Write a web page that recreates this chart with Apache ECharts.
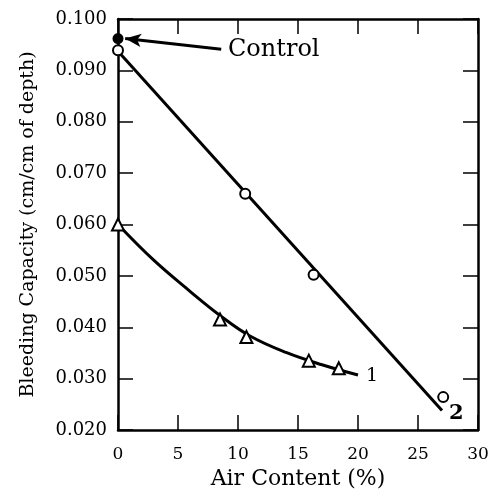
<!DOCTYPE html>
<html><head><meta charset="utf-8">
<script src="https://cdn.jsdelivr.net/npm/echarts@6/dist/echarts.min.js"></script>
<style>html,body{margin:0;padding:0;background:#fff}#c{width:501px;height:495px}</style>
</head><body><div id="c"></div>
<script>
const xTicks = [0, 5, 10, 15, 20, 25, 30];
const yTicks = [0.020, 0.030, 0.040, 0.050, 0.060, 0.070, 0.080, 0.090, 0.100];
// Line 2: straight fit and open-circle data
const fit2 = [[0, 0.0937], [27.0, 0.0238]];
const circles2 = [[0, 0.0939], [10.6, 0.0660], [16.3, 0.0502], [27.1, 0.0264]];
const control = [[0, 0.0962]];
// Line 1: smooth curve and triangle data
const curve1 = [[0, 0.0600], [3, 0.0530], [6, 0.0470], [8.5, 0.0423], [11, 0.0383], [14, 0.0351], [17, 0.0327], [20, 0.0307]];
const triangles1 = [[0, 0.0600], [8.5, 0.0415], [10.7, 0.0381], [15.9, 0.0335], [18.4, 0.0320]];
const arrow = [[8.6, 0.0941], [0.6, 0.0962]];

const FONT = 'DejaVu Serif';
const chart = echarts.init(document.getElementById('c'), null, {renderer: 'canvas'});
const axisLine = {show: true, onZero: false, lineStyle: {color: '#000', width: 2.5}};
const axisTick = {show: true, inside: true, length: 15, lineStyle: {color: '#000', width: 1.5}};
const xBase = {type: 'value', min: xTicks[0], max: xTicks[xTicks.length - 1], interval: 5, splitLine: {show: false}, axisLine, axisTick};
const yBase = {type: 'value', min: yTicks[0], max: yTicks[yTicks.length - 1], interval: 0.01, splitLine: {show: false}, axisLine, axisTick};
const openStyle = {color: '#fff', borderColor: '#000', borderWidth: 2, opacity: 1};

chart.setOption({
  backgroundColor: '#fff',
  animation: false,
  grid: {left: 118, right: 23, top: 19, bottom: 62},
  xAxis: [
    Object.assign({}, xBase, {position: 'bottom', name: 'Air Content (%)', nameLocation: 'middle', nameGap: 38,
      nameTextStyle: {fontFamily: FONT, fontSize: 22, color: '#000'},
      axisLabel: {fontFamily: FONT, fontSize: 17, color: '#000', margin: 16}}),
    Object.assign({}, xBase, {position: 'top', axisLabel: {show: false}})
  ],
  yAxis: [
    Object.assign({}, yBase, {position: 'left', name: 'Bleeding Capacity (cm/cm of depth)', nameLocation: 'middle', nameGap: 80,
      nameTextStyle: {fontFamily: FONT, fontSize: 19, color: '#000'},
      axisLabel: {fontFamily: FONT, fontSize: 18, color: '#000', margin: 11, formatter: v => v.toFixed(3)}}),
    Object.assign({}, yBase, {position: 'right', axisLabel: {show: false}})
  ],
  series: [
    {type: 'line', data: fit2, showSymbol: false, symbol: 'none', lineStyle: {color: '#000', width: 3}, clip: false, z: 2},
    {type: 'line', data: curve1, smooth: 0.4, showSymbol: false, symbol: 'none', lineStyle: {color: '#000', width: 3}, clip: false, z: 2},
    {type: 'scatter', data: circles2, symbol: 'circle', symbolSize: 10, clip: false, z: 3, itemStyle: openStyle},
    {type: 'scatter', data: triangles1, symbol: 'triangle', symbolSize: 12, clip: false, z: 3, itemStyle: openStyle},
    {type: 'scatter', data: control, symbol: 'circle', symbolSize: 11, clip: false, z: 4,
      itemStyle: {color: '#000', opacity: 1},
      markLine: {silent: true, symbol: ['none', 'arrow'], symbolSize: [10, 16], label: {show: false},
        lineStyle: {color: '#000', width: 3, type: 'solid'},
        data: [[{coord: arrow[0]}, {coord: arrow[1]}]]}}
  ],
  graphic: [
    {type: 'text', left: 228, top: 38, style: {text: 'Control', fontFamily: FONT, fontSize: 24, fill: '#000'}},
    {type: 'text', left: 366, top: 367, style: {text: '1', fontFamily: FONT, fontSize: 19, fill: '#000'}},
    {type: 'text', left: 449, top: 403, style: {text: '2', fontFamily: FONT, fontSize: 21, fontWeight: 'bold', fill: '#000'}}
  ]
});
</script></body></html>
